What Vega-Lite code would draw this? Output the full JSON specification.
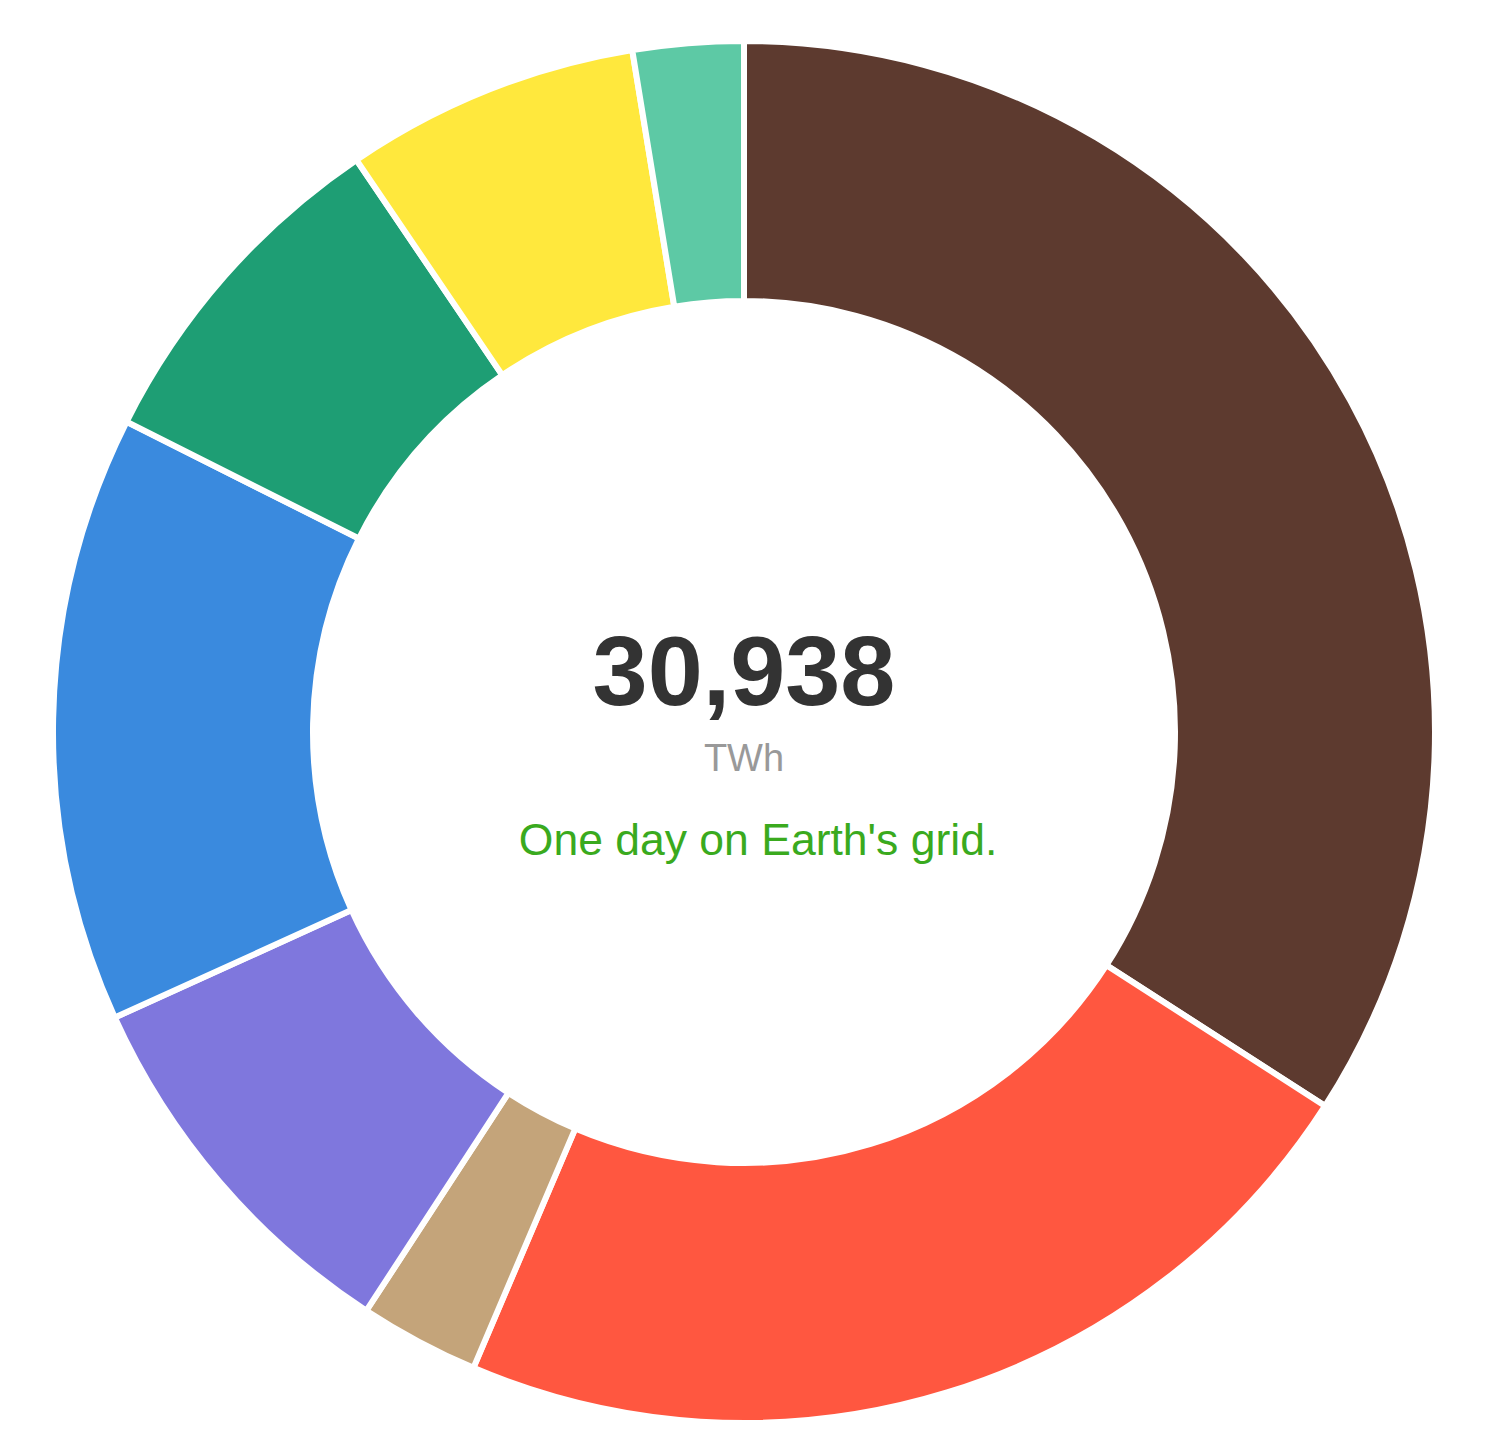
{
  "$schema": "https://vega.github.io/schema/vega-lite/v6.json",
  "width": 1488,
  "height": 1444,
  "autosize": {"type": "none"},
  "padding": {"left": 0, "top": 10, "right": 8, "bottom": 0},
  "background": "white",
  "view": {"stroke": null},
  "datasets": {
    "sources": [
      {"source": "Coal", "twh": 10550, "rank": 1},
      {"source": "Gas", "twh": 6900, "rank": 2},
      {"source": "Oil", "twh": 866, "rank": 3},
      {"source": "Nuclear", "twh": 2790, "rank": 4},
      {"source": "Hydro", "twh": 4390, "rank": 5},
      {"source": "Wind", "twh": 2510, "rank": 6},
      {"source": "Solar", "twh": 2132, "rank": 7},
      {"source": "Other renewables", "twh": 800, "rank": 8}
    ]
  },
  "layer": [
    {
      "data": {"name": "sources"},
      "mark": {"type": "arc", "outerRadius": 691, "innerRadius": 431, "stroke": "white", "strokeWidth": 6},
      "encoding": {
        "theta": {"field": "twh", "type": "quantitative", "stack": true},
        "order": {"field": "rank", "type": "quantitative"},
        "color": {
          "field": "source",
          "type": "nominal",
          "legend": null,
          "scale": {
            "domain": ["Coal", "Gas", "Oil", "Nuclear", "Hydro", "Wind", "Solar", "Other renewables"],
            "range": ["#5D3A2F", "#FF5740", "#C4A47A", "#7F77DD", "#3A8ADE", "#1E9E74", "#FFE83D", "#5DC9A5"]
          }
        }
      }
    },
    {
      "data": {"values": [{"t": "30,938"}]},
      "mark": {"type": "text", "font": "Liberation Sans", "fontWeight": "bold", "fontSize": 99, "color": "#333333", "align": "center", "baseline": "alphabetic", "dy": -27},
      "encoding": {"text": {"field": "t"}}
    },
    {
      "data": {"values": [{"t": "TWh"}]},
      "mark": {"type": "text", "font": "Liberation Sans", "fontSize": 38, "color": "#999999", "align": "center", "baseline": "alphabetic", "dy": 39},
      "encoding": {"text": {"field": "t"}}
    },
    {
      "data": {"values": [{"t": "One day on Earth's grid."}]},
      "mark": {"type": "text", "font": "Liberation Sans", "fontSize": 44.5, "color": "#3AAA1E", "align": "center", "baseline": "alphabetic", "dx": 14, "dy": 123},
      "encoding": {"text": {"field": "t"}}
    }
  ]
}
